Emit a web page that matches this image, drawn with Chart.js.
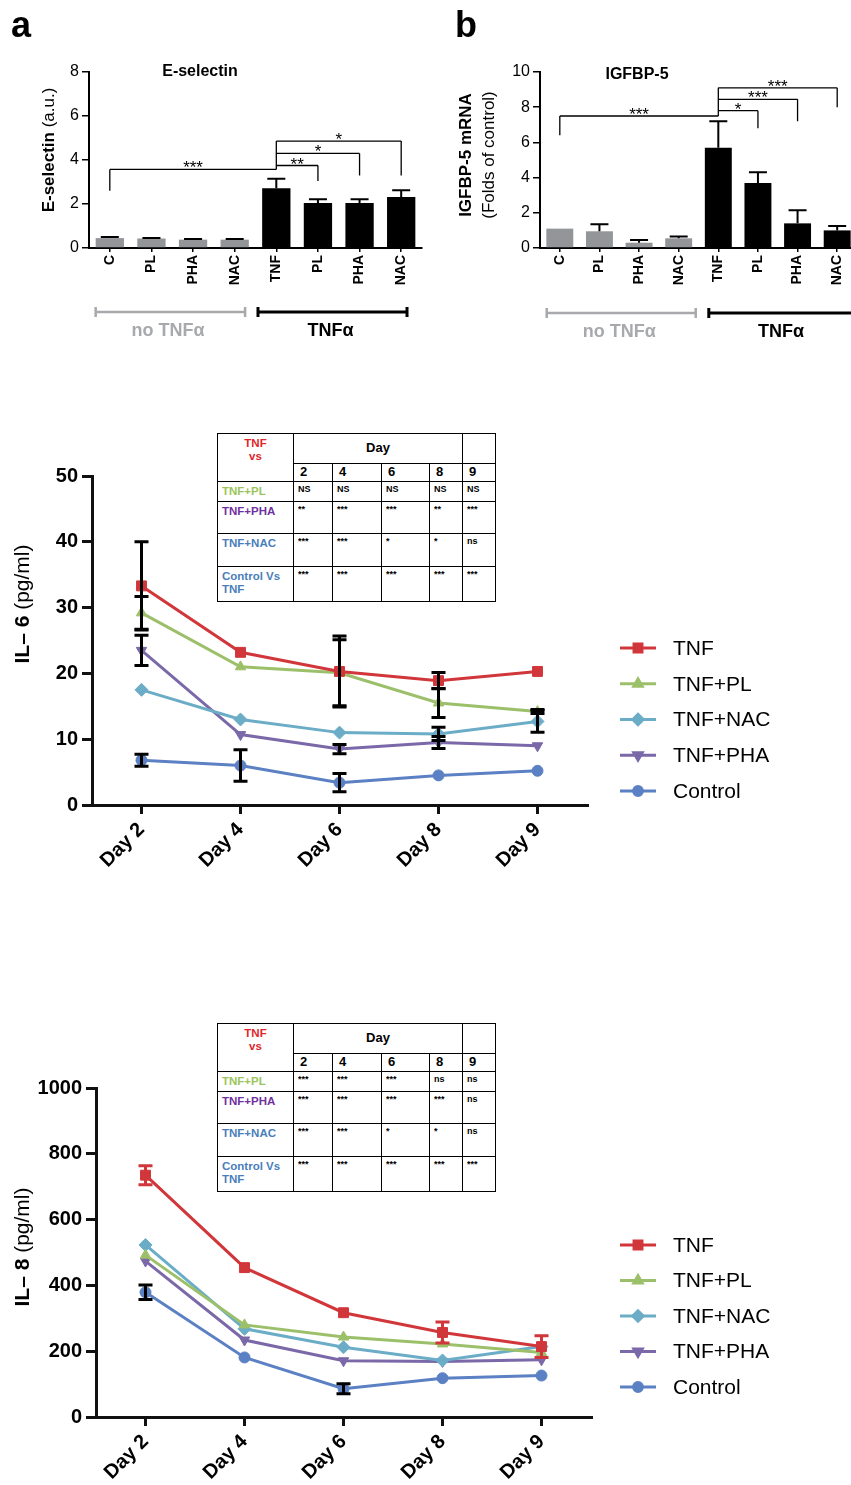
<!DOCTYPE html>
<html lang="en">
<head>
<meta charset="UTF-8">
<title>E-selectin, IGFBP-5, IL-6 and IL-8</title>
<script src="https://cdn.jsdelivr.net/npm/chart.js@4"></script>
<style>
    body { margin: 0; background: #fff; overflow: hidden; font-family: "Liberation Sans", Arial, sans-serif; }
    #page { position: relative; width: 851px; height: 1485px; overflow: hidden; background: #fff; }
    #page canvas { position: absolute; }
    table.sig { position: absolute; left: 217px; width: 278px; border-collapse: collapse; table-layout: fixed; background: #fff; }
    table.sig td { border: 1.5px solid #000; padding: 2px 4px; vertical-align: top; font-weight: bold; font-size: 9px; line-height: 1.15; overflow: hidden; }
    table.sig td.corner { color: #e0262b; font-size: 11.5px; text-align: center; padding-top: 3px; }
    table.sig td.day { font-size: 13px; text-align: center; vertical-align: middle; }
    table.sig td.num { font-size: 13px; padding: 1px 6px; vertical-align: middle; }
    table.sig td.rowlab { font-size: 11.5px; padding: 3px 4px; }
</style>
</head>
<body>
<div id="page">
    <canvas id="chartA" width="430" height="350" style="left:0;top:0;"></canvas>
    <canvas id="chartB" width="440" height="350" style="left:430px;top:0;"></canvas>
    <canvas id="chartIL6" width="851" height="480" style="left:0;top:420px;"></canvas>
    <canvas id="chartIL8" width="851" height="445" style="left:0;top:1040px;"></canvas>
    <table class="sig" id="tableIL6" style="top:433px;"></table>
    <table class="sig" id="tableIL8" style="top:1023px;"></table>
</div>

<script>
    // データ
    const barLabels = ['C', 'PL', 'PHA', 'NAC', 'TNF', 'PL', 'PHA', 'NAC'];
    const eselMean = [0.45, 0.43, 0.38, 0.38, 2.72, 2.05, 2.05, 2.32];
    const eselErr = [0.05, 0.02, 0.03, 0.03, 0.43, 0.17, 0.17, 0.30];
    const igfbpMean = [1.1, 0.95, 0.3, 0.55, 5.7, 3.7, 1.4, 1.0];
    const igfbpErr = [0, 0.4, 0.15, 0.1, 1.5, 0.6, 0.75, 0.25];

    const days = ['Day 2', 'Day 4', 'Day 6', 'Day 8', 'Day 9'];
    const seriesNames = ['TNF', 'TNF+PL', 'TNF+NAC', 'TNF+PHA', 'Control'];

    const il6Tnf = [33.3, 23.2, 20.3, 18.9, 20.3];
    const il6TnfPl = [29.2, 21.0, 20.1, 15.5, 14.2];
    const il6TnfNac = [17.5, 13.0, 11.0, 10.8, 12.7];
    const il6TnfPha = [23.5, 10.7, 8.5, 9.5, 9.0];
    const il6Control = [6.8, 6.0, 3.4, 4.5, 5.2];
    const il6TnfErr = [6.7, 0, 5.4, 1.25, 0];
    const il6TnfPlErr = [2.5, 0, 5.0, 2.2, 0.3];
    const il6TnfNacErr = [0, 0, 0, 1.0, 1.65];
    const il6TnfPhaErr = [2.3, 0, 0.7, 0.9, 0];
    const il6ControlErr = [0.9, 2.4, 1.4, 0, 0];

    const il8Tnf = [735, 454, 317, 257, 214];
    const il8TnfPl = [492, 280, 243, 222, 196];
    const il8TnfNac = [523, 268, 212, 172, 214];
    const il8TnfPha = [474, 234, 171, 169, 174];
    const il8Control = [379, 181, 86, 118, 126];
    const il8TnfErr = [29, 0, 0, 32, 33];
    const il8ControlErr = [22, 0, 15, 0, 0];

    const tableDays = ['2', '4', '6', '8', '9'];
    const tableRows = ['TNF+PL', 'TNF+PHA', 'TNF+NAC', 'Control Vs TNF'];
    const il6Sig = [
        ['NS', 'NS', 'NS', 'NS', 'NS'],
        ['**', '***', '***', '**', '***'],
        ['***', '***', '*', '*', 'ns'],
        ['***', '***', '***', '***', '***']
    ];
    const il8Sig = [
        ['***', '***', '***', 'ns', 'ns'],
        ['***', '***', '***', '***', 'ns'],
        ['***', '***', '*', '*', 'ns'],
        ['***', '***', '***', '***', '***']
    ];

    // スタイル
    const FONT = "'Liberation Sans', Arial, Helvetica, sans-serif";
    Chart.defaults.font.family = FONT;
    Chart.defaults.color = '#000';
    Chart.defaults.animation = false;

    const seriesStyle = [
        { color: '#d1363a', pointStyle: 'rect', radius: 7, rotation: 0 },
        { color: '#9cc06a', pointStyle: 'triangle', radius: 6, rotation: 0 },
        { color: '#6badc6', pointStyle: 'rectRot', radius: 6.5, rotation: 0 },
        { color: '#7a68a8', pointStyle: 'triangle', radius: 6, rotation: 180 },
        { color: '#5b80c3', pointStyle: 'circle', radius: 5.5, rotation: 0 }
    ];
    const rowColors = ['#9bc55a', '#7030a0', '#4a7ebb', '#4a7ebb'];

    // エラーバー
    const errorBars = {
        id: 'errorBars',
        afterDatasetsDraw(chart) {
            const ctx = chart.ctx;
            const y = chart.scales.y;
            chart.data.datasets.forEach((ds, i) => {
                if (!ds.errors) return;
                const meta = chart.getDatasetMeta(i);
                meta.data.forEach((el, j) => {
                    const e = ds.errors[j];
                    if (!e) return;
                    const v = ds.data[j];
                    const top = y.getPixelForValue(v + e);
                    const bot = ds.upperOnly ? el.y : y.getPixelForValue(v - e);
                    const cap = ds.capHalf || 6;
                    ctx.save();
                    ctx.strokeStyle = ds.errorColor || '#000';
                    ctx.lineWidth = ds.errorWidth || 2;
                    ctx.beginPath();
                    ctx.moveTo(el.x, top); ctx.lineTo(el.x, bot);
                    ctx.moveTo(el.x - cap, top); ctx.lineTo(el.x + cap, top);
                    if (!ds.upperOnly) { ctx.moveTo(el.x - cap, bot); ctx.lineTo(el.x + cap, bot); }
                    ctx.stroke();
                    ctx.restore();
                });
            });
        }
    };

    function rotatedParts(ctx, cx, cy, parts, size) {
        ctx.save();
        ctx.translate(cx, cy);
        ctx.rotate(-Math.PI / 2);
        ctx.textAlign = 'left';
        ctx.textBaseline = 'middle';
        ctx.fillStyle = '#000';
        let total = 0;
        parts.forEach(p => { ctx.font = p[1] + ' ' + size + 'px ' + FONT; total += ctx.measureText(p[0]).width; });
        let x = -total / 2;
        parts.forEach(p => {
            ctx.font = p[1] + ' ' + size + 'px ' + FONT;
            ctx.fillText(p[0], x, 0);
            x += ctx.measureText(p[0]).width;
        });
        ctx.restore();
    }

    // 注釈（パネル文字・タイトル・有意差・グループ・凡例）
    const decor = {
        id: 'decor',
        afterDraw(chart, args, o) {
            const ctx = chart.ctx;
            const xs = chart.scales.x, ys = chart.scales.y;
            ctx.save();
            ctx.fillStyle = '#000';
            if (o.letter) {
                ctx.font = 'bold 36px ' + FONT;
                ctx.textAlign = 'left'; ctx.textBaseline = 'alphabetic';
                ctx.fillText(o.letter[0], o.letter[1], o.letter[2]);
            }
            if (o.title) {
                ctx.font = 'bold 16px ' + FONT;
                ctx.textAlign = 'center'; ctx.textBaseline = 'middle';
                ctx.fillText(o.title[0], o.title[1], o.title[2]);
            }
            (o.yTitles || []).forEach(t => rotatedParts(ctx, t.x, t.y, t.parts, t.size));
            if (o.brackets) {
                ctx.strokeStyle = '#000';
                ctx.lineWidth = 1.3;
                const hubX = xs.getPixelForValue(o.hub);
                let lo = Infinity, hi = -Infinity;
                o.brackets.forEach(b => {
                    const x1 = xs.getPixelForValue(b.from), x2 = xs.getPixelForValue(b.to);
                    const yy = ys.getPixelForValue(b.level);
                    lo = Math.min(lo, yy); hi = Math.max(hi, yy);
                    ctx.beginPath();
                    ctx.moveTo(x1, yy); ctx.lineTo(x2, yy);
                    if (b.dropFrom != null) { ctx.moveTo(x1, yy); ctx.lineTo(x1, ys.getPixelForValue(b.dropFrom)); }
                    if (b.dropTo != null) { ctx.moveTo(x2, yy); ctx.lineTo(x2, ys.getPixelForValue(b.dropTo)); }
                    ctx.stroke();
                    ctx.font = '17px ' + FONT;
                    ctx.textAlign = 'center'; ctx.textBaseline = 'alphabetic';
                    ctx.fillText(b.text, (x1 + x2) / 2, yy + 4);
                });
                ctx.beginPath(); ctx.moveTo(hubX, lo); ctx.lineTo(hubX, hi); ctx.stroke();
            }
            (o.groups || []).forEach(g => {
                const x1 = xs.getPixelForValue(g.from), x2 = xs.getPixelForValue(g.to);
                ctx.strokeStyle = g.color;
                ctx.lineWidth = g.width;
                ctx.beginPath();
                ctx.moveTo(x1, g.y); ctx.lineTo(x2, g.y);
                ctx.moveTo(x1, g.y - 5); ctx.lineTo(x1, g.y + 5);
                ctx.moveTo(x2, g.y - 5); ctx.lineTo(x2, g.y + 5);
                ctx.stroke();
                ctx.fillStyle = g.color;
                ctx.font = 'bold 18px ' + FONT;
                ctx.textAlign = 'center'; ctx.textBaseline = 'middle';
                ctx.fillText(g.label, xs.getPixelForValue(g.labelAt), g.labelY);
            });
            if (o.legend) {
                const L = o.legend;
                chart.data.datasets.forEach((ds, i) => {
                    const yy = L.y0 + i * L.step;
                    ctx.strokeStyle = ds.borderColor;
                    ctx.fillStyle = ds.borderColor;
                    ctx.lineWidth = 3;
                    ctx.beginPath(); ctx.moveTo(L.x, yy); ctx.lineTo(L.x + 36, yy); ctx.stroke();
                    if (Chart.helpers && Chart.helpers.drawPoint) {
                        Chart.helpers.drawPoint(ctx, { pointStyle: ds.pointStyle, rotation: ds.pointRotation, radius: ds.pointRadius * 0.8, borderWidth: 1 }, L.x + 18, yy);
                    }
                    ctx.fillStyle = '#000';
                    ctx.font = '21px ' + FONT;
                    ctx.textAlign = 'left'; ctx.textBaseline = 'middle';
                    ctx.fillText(ds.label, L.x + 53, yy + 1);
                });
            }
            ctx.restore();
        }
    };

    function barChart(id, values, errs, yMax, step, yWidth, padRight, deco) {
        return new Chart(document.getElementById(id), {
            type: 'bar',
            data: {
                labels: barLabels,
                datasets: [{
                    data: values,
                    errors: errs,
                    upperOnly: true,
                    capHalf: 9,
                    errorWidth: 2,
                    backgroundColor: barLabels.map((l, i) => i < 4 ? '#939598' : '#000'),
                    barPercentage: 0.68,
                    categoryPercentage: 1.0
                }]
            },
            options: {
                responsive: false,
                layout: { padding: { top: 72, right: padRight, left: 0, bottom: 0 } },
                plugins: { legend: { display: false }, tooltip: { enabled: false }, decor: deco },
                scales: {
                    x: {
                        grid: { drawOnChartArea: false, offset: false, tickLength: 4, color: '#000', lineWidth: 1.5 },
                        border: { color: '#000', width: 2 },
                        ticks: { minRotation: 90, maxRotation: 90, font: { size: 14, weight: 'bold' }, padding: 3, color: '#000' },
                        afterFit(s) { s.height = 102; }
                    },
                    y: {
                        min: 0, max: yMax,
                        ticks: { stepSize: step, font: { size: 16 }, padding: 3, color: '#000', callback: v => String(v) },
                        grid: { drawOnChartArea: false, tickLength: 7, color: '#000', lineWidth: 1.5 },
                        border: { color: '#000', width: 2 },
                        afterFit(s) { s.width = yWidth; }
                    }
                }
            },
            plugins: [errorBars, decor]
        });
    }

    function lineChart(id, series, errs, errColors, yMax, step, yWidth, padTop, xHeight, padRight, deco) {
        return new Chart(document.getElementById(id), {
            type: 'line',
            data: {
                labels: days,
                datasets: series.map((d, i) => ({
                    label: seriesNames[i],
                    data: d,
                    errors: errs[i],
                    errorColor: errColors[i],
                    errorWidth: 3,
                    capHalf: 7,
                    borderColor: seriesStyle[i].color,
                    backgroundColor: seriesStyle[i].color,
                    borderWidth: 3,
                    pointStyle: seriesStyle[i].pointStyle,
                    pointRotation: seriesStyle[i].rotation,
                    pointRadius: seriesStyle[i].radius,
                    pointBorderWidth: 1,
                    tension: 0
                }))
            },
            options: {
                responsive: false,
                layout: { padding: { top: padTop, right: padRight, left: 0, bottom: 0 } },
                plugins: { legend: { display: false }, tooltip: { enabled: false }, decor: deco },
                scales: {
                    x: {
                        offset: true,
                        grid: { drawOnChartArea: false, offset: false, tickLength: 9, color: '#111', lineWidth: 3 },
                        border: { color: '#111', width: 3 },
                        ticks: { minRotation: 45, maxRotation: 45, font: { size: 20, weight: 'bold' }, padding: 4, color: '#000' },
                        afterFit(s) { s.height = xHeight; }
                    },
                    y: {
                        min: 0, max: yMax,
                        ticks: { stepSize: step, font: { size: 20, weight: 'bold' }, padding: 4, color: '#000', callback: v => String(v) },
                        grid: { drawOnChartArea: false, tickLength: 10, color: '#111', lineWidth: 3 },
                        border: { color: '#111', width: 3 },
                        afterFit(s) { s.width = yWidth; }
                    }
                }
            },
            plugins: [errorBars, decor]
        });
    }

    // a: E-selectin
    barChart('chartA', eselMean, eselErr, 8, 2, 89, 8, {
        letter: ['a', 11, 37],
        title: ['E-selectin', 200, 72],
        yTitles: [{ x: 49, y: 150, size: 17, parts: [['E-selectin', 'bold'], [' (a.u.)', 'normal']] }],
        hub: 4,
        brackets: [
            { from: 0, to: 4, level: 3.57, dropFrom: 2.6, text: '***' },
            { from: 4, to: 5, level: 3.75, dropTo: 3.05, text: '**' },
            { from: 4, to: 6, level: 4.3, dropTo: 3.3, text: '*' },
            { from: 4, to: 7, level: 4.86, dropTo: 3.3, text: '*' }
        ],
        groups: [
            { from: -0.34, to: 3.25, labelAt: 1.4, y: 312, labelY: 331, color: '#a7a9ac', width: 2.5, label: 'no TNFα' },
            { from: 3.56, to: 7.14, labelAt: 5.3, y: 312, labelY: 331, color: '#000', width: 3, label: 'TNFα' }
        ]
    });

    // b: IGFBP-5
    barChart('chartB', igfbpMean, igfbpErr, 10, 2, 110, 13, {
        letter: ['b', 25, 37],
        title: ['IGFBP-5', 207, 75],
        yTitles: [
            { x: 36, y: 155, size: 17, parts: [['IGFBP-5 mRNA', 'bold']] },
            { x: 59, y: 155, size: 17, parts: [['(Folds of control)', 'normal']] }
        ],
        hub: 4,
        brackets: [
            { from: 0, to: 4, level: 7.5, dropFrom: 6.4, text: '***' },
            { from: 4, to: 5, level: 7.8, dropTo: 6.8, text: '*' },
            { from: 4, to: 6, level: 8.45, dropTo: 7.2, text: '***' },
            { from: 4, to: 7, level: 9.1, dropTo: 8.0, text: '***' }
        ],
        groups: [
            { from: -0.33, to: 3.43, labelAt: 1.5, y: 313, labelY: 332, color: '#a7a9ac', width: 2.5, label: 'no TNFα' },
            { from: 3.76, to: 8.2, labelAt: 5.58, y: 313, labelY: 332, color: '#000', width: 3, label: 'TNFα' }
        ]
    });

    // IL-6
    lineChart('chartIL6',
        [il6Tnf, il6TnfPl, il6TnfNac, il6TnfPha, il6Control],
        [il6TnfErr, il6TnfPlErr, il6TnfNacErr, il6TnfPhaErr, il6ControlErr],
        ['#000', '#000', '#000', '#000', '#000'],
        50, 10, 92, 56, 95, 264, {
            yTitles: [{ x: 23, y: 184, size: 21, parts: [['IL– 6 ', 'bold'], ['(pg/ml)', 'normal']] }],
            legend: { x: 620, y0: 228, step: 35.75 }
        });

    // IL-8
    lineChart('chartIL8',
        [il8Tnf, il8TnfPl, il8TnfNac, il8TnfPha, il8Control],
        [il8TnfErr, null, null, null, il8ControlErr],
        ['#d1363a', '#000', '#000', '#000', '#000'],
        1000, 200, 96, 48, 68, 260, {
            yTitles: [{ x: 23, y: 207, size: 21, parts: [['IL– 8 ', 'bold'], ['(pg/ml)', 'normal']] }],
            legend: { x: 620, y0: 205, step: 35.5 }
        });

    // 有意差テーブル
    function buildTable(id, sig) {
        const t = document.getElementById(id);
        const widths = [76, 39, 49, 48, 33, 33];
        let html = '<colgroup>' + widths.map(w => '<col style="width:' + w + 'px">').join('') + '</colgroup>';
        html += '<tr style="height:30px"><td class="corner" rowspan="2">TNF<br>vs</td><td class="day" colspan="4">Day</td><td></td></tr>';
        html += '<tr style="height:18px">' + tableDays.map(d => '<td class="num">' + d + '</td>').join('') + '</tr>';
        const heights = [20, 32, 33, 35];
        tableRows.forEach((r, i) => {
            html += '<tr style="height:' + heights[i] + 'px"><td class="rowlab" style="color:' + rowColors[i] + '">' + r + '</td>' +
                sig[i].map(s => '<td>' + s + '</td>').join('') + '</tr>';
        });
        t.innerHTML = html;
    }
    buildTable('tableIL6', il6Sig);
    buildTable('tableIL8', il8Sig);
</script>
</body>
</html>
